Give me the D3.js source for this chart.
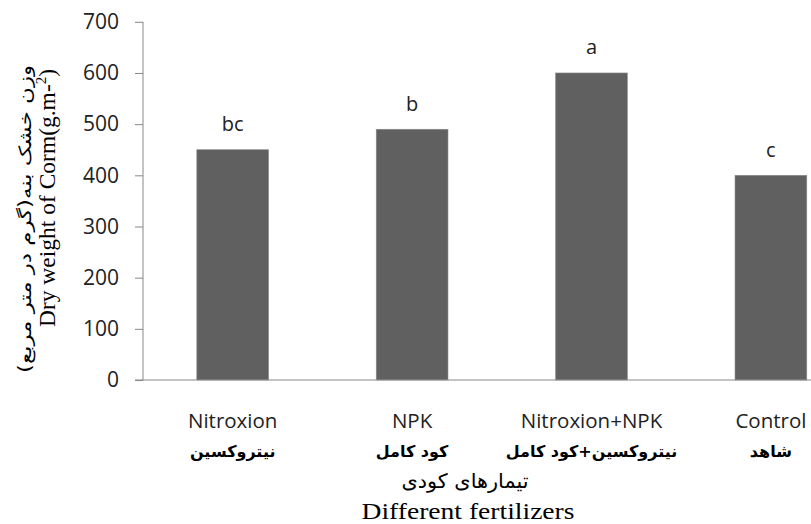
<!DOCTYPE html>
<html><head><meta charset="utf-8">
<script src="https://cdn.jsdelivr.net/npm/d3@7"></script>
<style>body{margin:0;background:#fff}</style>
</head><body><svg id="c" width="811" height="524"></svg>
<script>
const categories = ["Nitroxion", "NPK", "Nitroxion+NPK", "Control"];
const categoriesFa = ["نیتروکسین", "کود کامل", "نیتروکسین+کود کامل", "شاهد"];
const values = [450, 490, 600, 400];
const letters = ["bc", "b", "a", "c"];
const yTicks = [0, 100, 200, 300, 400, 500, 600, 700];
const xTitleFa = "تیمارهای کودی";
const xTitleEn = "Different fertilizers";
const yTitleFa = "وزن خشک بنه(گرم در متر مربع)";
const yTitleEn = "Dry weight of Corm(g.m-";

const svg = d3.select("#c");
const y = d3.scaleLinear().domain([0, 700]).range([380, 21.8]);
const x = d3.scaleBand().domain(categories).range([143, 860.6]).paddingInner(0.6).paddingOuter(0.3);

// bars
svg.append("g").selectAll("rect").data(values).join("rect")
  .attr("x", (d, i) => x(categories[i]))
  .attr("y", d => y(d))
  .attr("width", x.bandwidth())
  .attr("height", d => y(0) - y(d))
  .attr("fill", "#606060")
  .attr("stroke", "#8a8a8a").attr("stroke-width", 0.6);

// y axis
const ya = svg.append("g").attr("transform", "translate(143,0)")
  .call(d3.axisLeft(y).tickValues(yTicks).tickSize(8).tickPadding(16).tickFormat(d3.format("d")));
ya.select(".domain").attr("stroke", "#888").attr("d", "M0," + y(700) + "V" + y(0));
ya.selectAll(".tick line").attr("stroke", "#888");
ya.selectAll(".tick text").attr("font-family", "Open Sans, sans-serif").attr("font-size", 21).attr("fill", "#222");

// x axis line
svg.append("line").attr("x1", 135).attr("x2", 811).attr("y1", y(0)).attr("y2", y(0))
  .attr("stroke", "#888").attr("stroke-width", 1);

// letters
svg.append("g").selectAll("text").data(letters).join("text")
  .attr("x", (d, i) => x(categories[i]) + x.bandwidth() / 2)
  .attr("y", (d, i) => y(values[i]) - 18.5)
  .attr("text-anchor", "middle")
  .attr("font-family", "Open Sans, sans-serif").attr("font-size", 20).attr("fill", "#222")
  .text(d => d);

// category labels
svg.append("g").selectAll("text").data(categories).join("text")
  .attr("x", d => x(d) + x.bandwidth() / 2)
  .attr("y", 428)
  .attr("text-anchor", "middle")
  .attr("font-family", "Open Sans, sans-serif").attr("font-size", 20.5).attr("fill", "#222")
  .text(d => d);

svg.append("g").selectAll("text").data(categoriesFa).join("text")
  .attr("x", (d, i) => x(categories[i]) + x.bandwidth() / 2)
  .attr("y", 457)
  .attr("text-anchor", "middle")
  .attr("direction", "rtl")
  .attr("font-family", "DejaVu Sans, sans-serif").attr("font-weight", "bold").attr("font-size", 16).attr("fill", "#000")
  .text(d => d);

// x titles
svg.append("text").attr("x", 465).attr("y", 488).attr("text-anchor", "middle").attr("direction", "rtl")
  .attr("font-family", "DejaVu Serif, DejaVu Sans, serif").attr("font-size", 20).attr("fill", "#000")
  .attr("textLength", 127).attr("lengthAdjust", "spacingAndGlyphs")
  .text(xTitleFa);
svg.append("text").attr("x", 468).attr("y", 519).attr("text-anchor", "middle")
  .attr("font-family", "Liberation Serif, Times New Roman, serif").attr("font-size", 23).attr("fill", "#000")
  .attr("textLength", 213).attr("lengthAdjust", "spacingAndGlyphs")
  .text(xTitleEn);

// y titles
svg.append("text").attr("transform", "translate(31,219) rotate(-90)").attr("text-anchor", "middle").attr("direction", "rtl")
  .attr("font-family", "DejaVu Sans, sans-serif").attr("font-size", 17).attr("fill", "#000")
  .attr("textLength", 308).attr("lengthAdjust", "spacingAndGlyphs")
  .text(yTitleFa);
const ye = svg.append("text").attr("transform", "translate(55,198) rotate(-90)").attr("text-anchor", "middle")
  .attr("font-family", "Liberation Serif, Times New Roman, serif").attr("font-size", 23.5).attr("fill", "#000");
ye.append("tspan").text(yTitleEn);
ye.append("tspan").attr("font-size", 15).attr("dy", -9).text("2");
ye.append("tspan").attr("dy", 9).text(")");
</script></body></html>
